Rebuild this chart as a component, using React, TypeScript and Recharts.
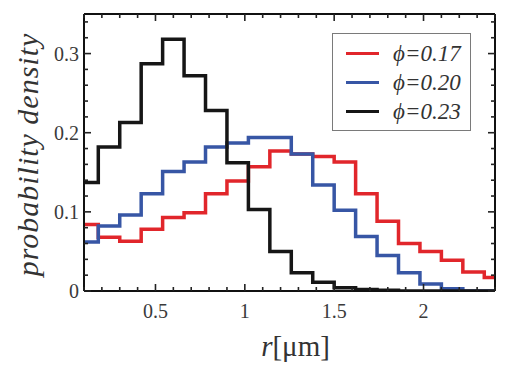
import React from 'react';
import { LineChart, Line, XAxis, YAxis, Legend } from 'recharts';

// bin edges (µm); each value applies from its edge to the next one
const binEdges = [0.06, 0.18, 0.3, 0.42, 0.54, 0.66, 0.78, 0.9, 1.02, 1.14, 1.26, 1.38, 1.5, 1.62, 1.74, 1.86, 1.98, 2.1, 2.22, 2.34, 2.46];
const phi017 = [0.084, 0.068, 0.063, 0.078, 0.093, 0.099, 0.123, 0.139, 0.157, 0.177, 0.173, 0.17, 0.163, 0.123, 0.088, 0.06, 0.05, 0.039, 0.024, 0.017];
const phi020 = [0.062, 0.082, 0.096, 0.123, 0.151, 0.163, 0.182, 0.187, 0.194, 0.194, 0.173, 0.134, 0.102, 0.069, 0.045, 0.023, 0.009, 0.003, 0, 0];
const phi023 = [0.137, 0.182, 0.213, 0.287, 0.318, 0.272, 0.228, 0.162, 0.103, 0.05, 0.023, 0.011, 0.004, 0.002, 0.001, 0, 0, 0, 0, 0];
const seriesNames = ['ϕ=0.17', 'ϕ=0.20', 'ϕ=0.23'];
const seriesColors = ['#e1262b', '#3756a5', '#161616'];

const xAllTicks = [0.1, 0.2, 0.3, 0.4, 0.5, 0.6, 0.7, 0.8, 0.9, 1, 1.1, 1.2, 1.3, 1.4, 1.5, 1.6, 1.7, 1.8, 1.9, 2, 2.1, 2.2, 2.3, 2.4];
const xMajorTicks = [0.5, 1, 1.5, 2];
const xTickLabels = ['0.5', '1', '1.5', '2'];
const yAllTicks = [0, 0.02, 0.04, 0.06, 0.08, 0.1, 0.12, 0.14, 0.16, 0.18, 0.2, 0.22, 0.24, 0.26, 0.28, 0.3, 0.32, 0.34];
const yMajorTicks = [0, 0.1, 0.2, 0.3];
const yTickLabels = ['0', '0.1', '0.2', '0.3'];

const data = binEdges.map((r, i) => {
  const j = Math.min(i, phi017.length - 1);
  return { r, a: phi017[j], b: phi020[j], c: phi023[j] };
});

const FONT = "'Liberation Serif', 'Times New Roman', Tinos, 'DejaVu Serif', Times, serif";
const TICK_COLOR = '#222';
const LABEL_COLOR = '#3a3a3a';

const majorIndex = (v: number, list: number[]) => list.findIndex((t) => Math.abs(t - v) < 1e-6);

const XTickBottom = (props: any) => {
  const { x, y, payload } = props;
  const k = majorIndex(payload.value, xMajorTicks);
  const len = k >= 0 ? 7 : 4;
  return (
    <g>
      <line x1={x} x2={x} y1={y} y2={y - len} stroke={TICK_COLOR} strokeWidth={1.6} />
      {k >= 0 && (
        <text x={x} y={y + 27} textAnchor="middle" style={{ fontFamily: FONT }} fontSize={20} fill={LABEL_COLOR}>
          {xTickLabels[k]}
        </text>
      )}
    </g>
  );
};

const XTickTop = (props: any) => {
  const { x, y, payload } = props;
  const k = majorIndex(payload.value, xMajorTicks);
  const len = k >= 0 ? 7 : 4;
  return <line x1={x} x2={x} y1={y} y2={y + len} stroke={TICK_COLOR} strokeWidth={1.6} />;
};

const YTickLeft = (props: any) => {
  const { x, y, payload } = props;
  const k = majorIndex(payload.value, yMajorTicks);
  const len = k >= 0 ? 7 : 4;
  return (
    <g>
      <line x1={x} x2={x + len} y1={y} y2={y} stroke={TICK_COLOR} strokeWidth={1.6} />
      {k >= 0 && (
        <text x={x - 5} y={y + 7} textAnchor="end" style={{ fontFamily: FONT }} fontSize={20} fill={LABEL_COLOR}>
          {yTickLabels[k]}
        </text>
      )}
    </g>
  );
};

const YTickRight = (props: any) => {
  const { x, y, payload } = props;
  const k = majorIndex(payload.value, yMajorTicks);
  const len = k >= 0 ? 7 : 4;
  return <line x1={x} x2={x - len} y1={y} y2={y} stroke={TICK_COLOR} strokeWidth={1.6} />;
};

const renderXTitle = (props: any) => {
  const vb = props.viewBox || { x: 84, y: 291, width: 411, height: 81 };
  return (
    <text x={vb.x + vb.width / 2 + 6} y={vb.y + 65} textAnchor="middle" style={{ fontFamily: FONT }} fontSize={29} fill="#333">
      <tspan fontStyle="italic">r</tspan>
      <tspan>[μm]</tspan>
    </text>
  );
};

const renderYTitle = (props: any) => {
  const vb = props.viewBox || { x: 0, y: 14, width: 84, height: 277 };
  const cy = vb.y + vb.height / 2 + 2;
  return (
    <text
      x={38}
      y={cy}
      transform={`rotate(-90, 38, ${cy})`}
      textAnchor="middle"
      style={{ fontFamily: FONT, fontStyle: 'italic', letterSpacing: 1 }}
      fontSize={30}
      fill="#333"
    >
      probability density
    </text>
  );
};

const renderLegend = (props: any) => {
  const payload = props.payload || [];
  return (
    <div
      style={{
        width: 139,
        height: 98,
        border: '1px solid #7a7a7a',
        boxSizing: 'border-box',
        background: '#fff',
        paddingTop: 5,
      }}
    >
      {payload.map((p: any, i: number) => (
        <div key={i} style={{ display: 'flex', alignItems: 'center', height: 29 }}>
          <span
            style={{
              display: 'inline-block',
              width: 33,
              height: 0,
              borderTop: `3.5px solid ${p.color}`,
              marginLeft: 13,
              marginRight: 14,
            }}
          />
          <span style={{ fontFamily: FONT, fontStyle: 'italic', fontSize: 23, color: '#333', lineHeight: '29px' }}>
            {p.value}
          </span>
        </div>
      ))}
    </div>
  );
};

export default function App() {
  return (
    <div style={{ position: 'absolute', left: 0, top: 0, width: 517, height: 372, background: '#fff' }}>
      <LineChart width={517} height={372} data={data} margin={{ top: 13, right: 21, bottom: 0, left: 0 }}>
        <XAxis
          dataKey="r"
          type="number"
          domain={[0.1, 2.4]}
          allowDataOverflow
          ticks={xAllTicks}
          interval={0}
          tickSize={0}
          tickMargin={0}
          tickLine={false}
          tick={<XTickBottom />}
          axisLine={{ stroke: '#111', strokeWidth: 2 }}
          height={81}
          label={{ content: renderXTitle }}
        />
        <XAxis
          xAxisId="top"
          dataKey="r"
          orientation="top"
          type="number"
          domain={[0.1, 2.4]}
          allowDataOverflow
          ticks={xAllTicks}
          interval={0}
          tickSize={0}
          tickMargin={0}
          tickLine={false}
          tick={<XTickTop />}
          axisLine={{ stroke: '#111', strokeWidth: 2 }}
          height={1}
        />
        <YAxis
          type="number"
          domain={[0, 0.35]}
          allowDataOverflow
          ticks={yAllTicks}
          interval={0}
          tickSize={0}
          tickMargin={0}
          tickLine={false}
          tick={<YTickLeft />}
          axisLine={{ stroke: '#111', strokeWidth: 2 }}
          width={84}
          label={{ content: renderYTitle }}
        />
        <YAxis
          yAxisId="right"
          orientation="right"
          type="number"
          domain={[0, 0.35]}
          allowDataOverflow
          ticks={yAllTicks}
          interval={0}
          tickSize={0}
          tickMargin={0}
          tickLine={false}
          tick={<YTickRight />}
          axisLine={{ stroke: '#111', strokeWidth: 2 }}
          width={1}
        />
        <Line type="stepAfter" dataKey="a" name={seriesNames[0]} stroke={seriesColors[0]} strokeWidth={3.5} dot={false} activeDot={false} isAnimationActive={false} />
        <Line type="stepAfter" dataKey="b" name={seriesNames[1]} stroke={seriesColors[1]} strokeWidth={3.5} dot={false} activeDot={false} isAnimationActive={false} />
        <Line
          type="stepAfter"
          dataKey="c"
          xAxisId="top"
          yAxisId="right"
          name={seriesNames[2]}
          stroke={seriesColors[2]}
          strokeWidth={3.5}
          dot={false}
          activeDot={false}
          isAnimationActive={false}
        />
        <Legend
          layout="horizontal"
          verticalAlign="middle"
          align="center"
          content={renderLegend}
          wrapperStyle={{ position: 'absolute', left: 332, top: 33, width: 139, height: 98 }}
        />
      </LineChart>
    </div>
  );
}
